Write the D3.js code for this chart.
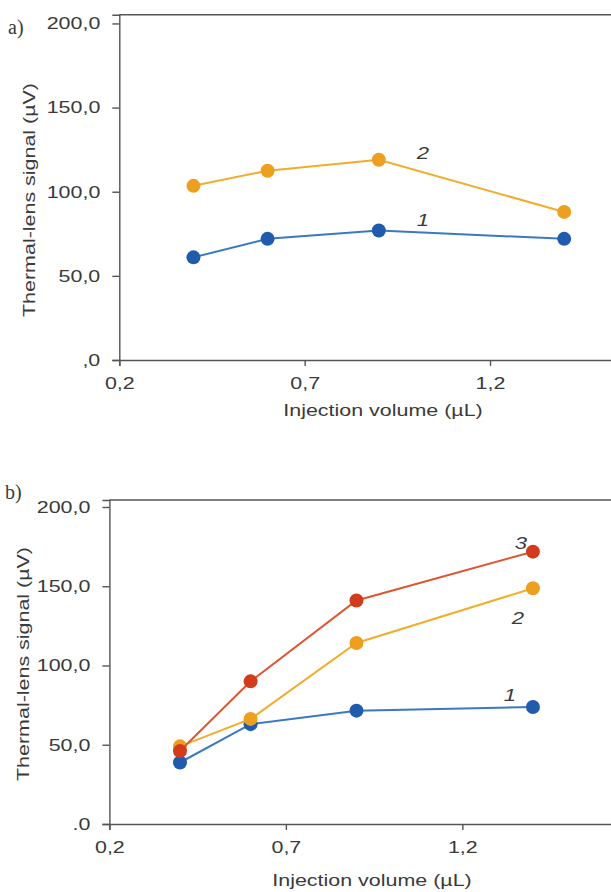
<!DOCTYPE html>
<html>
<head>
<meta charset="utf-8">
<script src="https://cdn.jsdelivr.net/npm/d3@7"></script>
<style>
  html, body { margin: 0; padding: 0; background: #fff; }
  svg { display: block; }
  text { font-family: "Liberation Sans", Arial, sans-serif; fill: #3a3a3a; }
</style>
</head>
<body>
<div id="chart"></div>
<script>
// Data
const volumes = [0.4, 0.6, 0.9, 1.4];
const xTicks = [0.2, 0.7, 1.2];
const yTicks = [0, 50, 100, 150, 200];

// panel a)
const a1 = [61, 72, 77, 72];
const a2 = [103.5, 112.5, 119, 88];
// panel b)
const b1 = [38.8, 63, 71.5, 73.8];
const b2 = [49, 66.3, 114.2, 148.7];
const b3 = [46, 90, 141, 171.8];

const colors = {
  1: { line: '#3b78c2', dot: '#1f5cae' },
  2: { line: '#f2ad2c', dot: '#eda020' },
  3: { line: '#de5630', dot: '#d23b1c' }
};

const W = 611, H = 892;
const STRETCH = 1.3; // the original lettering is wide

const svg = d3.select('#chart').append('svg')
  .attr('width', W)
  .attr('height', H);

// move a text's x/y into a transform so it can be stretched sideways
function widen(sel, extra = '') {
  sel.each(function() {
    const t = d3.select(this);
    const tx = +t.attr('x') || 0, ty = +t.attr('y') || 0;
    t.attr('x', 0).attr('y', 0)
      .attr('transform', `translate(${tx},${ty}) ${extra} scale(${STRETCH},1)`);
  });
}

/**
 * Draws one panel: frame, axes, lines, dots and curve labels
 */
function drawPanel(p) {
  const x = d3.scaleLinear().domain([0.2, p.xMax]).range([p.left, W + 1]);
  const y = d3.scaleLinear().domain([0, p.yMax]).range([p.bottom, p.top]);
  const g = svg.append('g');

  // top border of frame
  g.append('line')
    .attr('x1', p.left).attr('x2', W + 1)
    .attr('y1', p.top).attr('y2', p.top)
    .attr('stroke', '#555').attr('stroke-width', 1.4);

  const yAxis = g.append('g')
    .attr('transform', `translate(${p.left},0)`)
    .call(d3.axisLeft(y).tickValues(yTicks).tickSize(7).tickPadding(12)
      .tickFormat(d => d === 0 ? p.zeroLabel : d.toFixed(1).replace('.', ',')));

  const xAxis = g.append('g')
    .attr('transform', `translate(0,${p.bottom})`)
    .call(d3.axisBottom(x).tickValues(xTicks).tickSize(6).tickPadding(11)
      .tickFormat(d => d.toFixed(1).replace('.', ',')));

  [yAxis, xAxis].forEach(ax => {
    ax.select('.domain').attr('stroke', '#555').attr('stroke-width', 1.4);
    ax.selectAll('.tick line').attr('stroke', '#555').attr('stroke-width', 1.4);
    ax.selectAll('.tick text')
      .attr('fill', '#3a3a3a')
      .style('font-family', '"Liberation Sans", Arial, sans-serif')
      .style('font-size', '16.5px')
      .call(widen);
  });

  // axis titles
  g.append('text')
    .attr('x', p.yTitleX).attr('y', p.yTitleY)
    .attr('text-anchor', 'middle')
    .style('font-size', '16.5px')
    .text('Thermal-lens signal (\u00b5V)')
    .call(widen, 'rotate(-90)');

  g.append('text')
    .attr('x', p.xTitleX).attr('y', p.xTitleY)
    .attr('text-anchor', 'middle')
    .style('font-size', '16.5px')
    .text('Injection volume  (\u00b5L)')
    .call(widen);

  // panel letter
  g.append('text')
    .attr('x', p.letterX).attr('y', p.letterY)
    .style('font-family', '"Liberation Serif", "Times New Roman", serif')
    .style('font-size', '20px')
    .attr('fill', '#000')
    .text(p.letter);

  const line = d3.line().x((d, i) => x(volumes[i])).y(d => y(d));

  p.series.forEach(s => {
    g.append('path')
      .datum(s.values)
      .attr('d', line)
      .attr('fill', 'none')
      .attr('stroke', colors[s.id].line)
      .attr('stroke-width', 2);

    g.selectAll(null)
      .data(s.values)
      .enter()
      .append('circle')
      .attr('cx', (d, i) => x(volumes[i]))
      .attr('cy', d => y(d))
      .attr('r', 7)
      .attr('fill', colors[s.id].dot);
  });

  p.series.forEach(s => {
    g.append('text')
      .attr('x', s.labelX).attr('y', s.labelY)
      .attr('text-anchor', 'middle')
      .style('font-size', '17px')
      .style('font-style', 'italic')
      .attr('fill', '#222')
      .text(String(s.id))
      .call(widen);
  });
}

drawPanel({
  letter: 'a)', letterX: 8, letterY: 34,
  left: 119.3, top: 14.7, bottom: 360,
  xMax: 1.529, yMax: 205.2, zeroLabel: ',0',
  yTitleX: 35, yTitleY: 200, xTitleX: 383, xTitleY: 416,
  series: [
    { id: 2, values: a2, labelX: 423, labelY: 159 },
    { id: 1, values: a1, labelX: 423, labelY: 226 }
  ]
});

drawPanel({
  letter: 'b)', letterX: 5, letterY: 499,
  left: 109.4, top: 500, bottom: 824,
  xMax: 1.624, yMax: 204.4, zeroLabel: '.0',
  yTitleX: 29, yTitleY: 664, xTitleX: 372, xTitleY: 886,
  series: [
    { id: 1, values: b1, labelX: 510, labelY: 701 },
    { id: 2, values: b2, labelX: 518, labelY: 624 },
    { id: 3, values: b3, labelX: 521, labelY: 549 }
  ]
});
</script>
</body>
</html>
